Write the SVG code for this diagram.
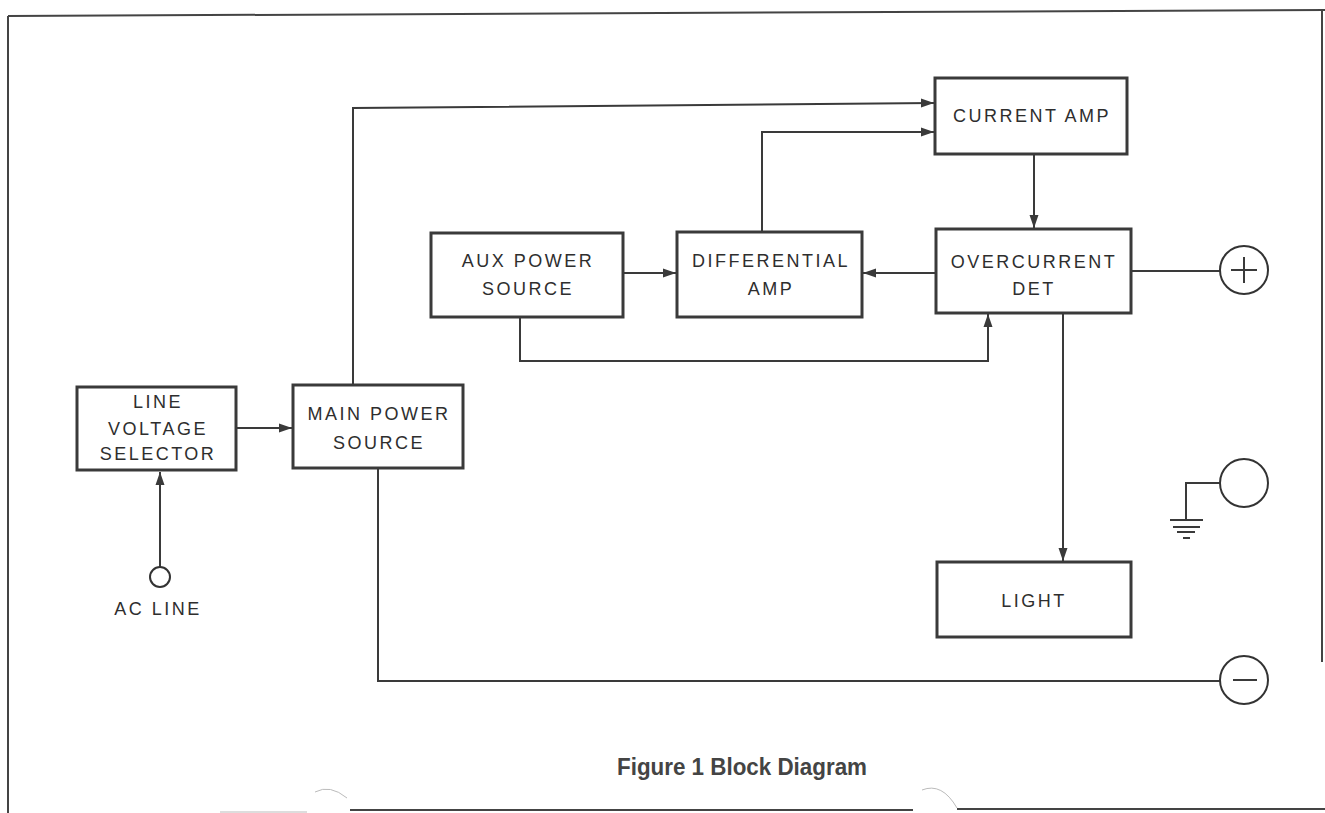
<svg xmlns="http://www.w3.org/2000/svg" width="1325" height="813" viewBox="0 0 1325 813">
<defs>
<marker id="arr" markerUnits="userSpaceOnUse" markerWidth="14" markerHeight="10" refX="13" refY="5" orient="auto">
<path d="M0,0.5 L13,5 L0,9.5 z" fill="#3a3a3a"/>
</marker>
<style>
.box{fill:#fff;stroke:#3a3a3a;stroke-width:3}
.ln{fill:none;stroke:#3a3a3a;stroke-width:2}
.frame{fill:none;stroke:#444;stroke-width:2}
.faint{fill:none;stroke:#bbb;stroke-width:1}
.lbl{font-family:"Liberation Sans",Arial,sans-serif;font-size:18px;letter-spacing:2.5px;fill:#2e2e2e;text-anchor:middle}
.term{fill:#fff;stroke:#333;stroke-width:2}
.cap{font-family:"Liberation Sans",Arial,sans-serif;font-size:24px;font-weight:bold;fill:#444;text-anchor:middle}
</style>
</defs>
<rect width="1325" height="813" fill="#fff"/>
<g id="frame">
<path class="frame" d="M8,16 L1325,10"/>
<path class="frame" d="M8,16 V813"/>
<path class="frame" d="M1322,10 V662"/>
<path class="frame" d="M350,810 H913"/>
<path class="frame" d="M957,809 H1325"/>
<path class="faint" d="M220,812 H307"/>
<path class="faint" d="M315,792 Q330,784 347,798"/>
<path class="faint" d="M922,790 Q942,782 957,808"/>
</g>
<g id="connectors">
<path class="ln" d="M237,428 H292" marker-end="url(#arr)"/>
<path class="ln" d="M160,567 V472" marker-end="url(#arr)"/>
<path class="ln" d="M353,385 V108 L934,103" marker-end="url(#arr)"/>
<path class="ln" d="M762,232 V132 H934" marker-end="url(#arr)"/>
<path class="ln" d="M623,273 H676" marker-end="url(#arr)"/>
<path class="ln" d="M936,273 H863" marker-end="url(#arr)"/>
<path class="ln" d="M1034,154 V228" marker-end="url(#arr)"/>
<path class="ln" d="M520,317 V361 H988 V314" marker-end="url(#arr)"/>
<path class="ln" d="M1131,271 H1220"/>
<path class="ln" d="M1063,313 V561" marker-end="url(#arr)"/>
<path class="ln" d="M378,468 V681 H1220"/>
<path class="ln" d="M1220,483 H1186 V520"/>
<path class="ln" d="M1170,520 H1203 M1173,527 H1200 M1177,532 H1195 M1183,538 H1190"/>
</g>
<g id="line-voltage-selector">
<rect class="box" x="77" y="387" width="159" height="83"/>
<text class="lbl" x="158" y="408">LINE</text>
<text class="lbl" x="158" y="435">VOLTAGE</text>
<text class="lbl" x="158" y="460">SELECTOR</text>
</g>
<g id="main-power-source">
<rect class="box" x="293" y="385" width="170" height="83"/>
<text class="lbl" x="379" y="420">MAIN POWER</text>
<text class="lbl" x="379" y="449">SOURCE</text>
</g>
<g id="aux-power-source">
<rect class="box" x="431" y="233" width="192" height="84"/>
<text class="lbl" x="528" y="267">AUX POWER</text>
<text class="lbl" x="528" y="295">SOURCE</text>
</g>
<g id="differential-amp">
<rect class="box" x="677" y="232" width="185" height="85"/>
<text class="lbl" x="771" y="267">DIFFERENTIAL</text>
<text class="lbl" x="771" y="295">AMP</text>
</g>
<g id="current-amp">
<rect class="box" x="935" y="78" width="192" height="76"/>
<text class="lbl" x="1032" y="122">CURRENT AMP</text>
</g>
<g id="overcurrent-det">
<rect class="box" x="936" y="229" width="195" height="84"/>
<text class="lbl" x="1034" y="268">OVERCURRENT</text>
<text class="lbl" x="1034" y="295">DET</text>
</g>
<g id="light">
<rect class="box" x="937" y="562" width="194" height="75"/>
<text class="lbl" x="1034" y="607">LIGHT</text>
</g>
<g id="ac-line">
<circle class="term" cx="160" cy="577" r="10"/>
<text class="lbl" x="158" y="615">AC LINE</text>
</g>
<g id="plus-terminal">
<circle class="term" cx="1244" cy="270" r="24"/>
<path class="ln" d="M1231,270 H1257 M1244,257 V283"/>
</g>
<g id="ground-terminal">
<circle class="term" cx="1244" cy="483" r="24"/>
</g>
<g id="minus-terminal">
<circle class="term" cx="1244" cy="680" r="24"/>
<path class="ln" d="M1233,680 H1257"/>
</g>
<g id="caption">
<text class="cap" x="742" y="775" textLength="250" lengthAdjust="spacingAndGlyphs">Figure 1 Block Diagram</text>
</g>
</svg>
